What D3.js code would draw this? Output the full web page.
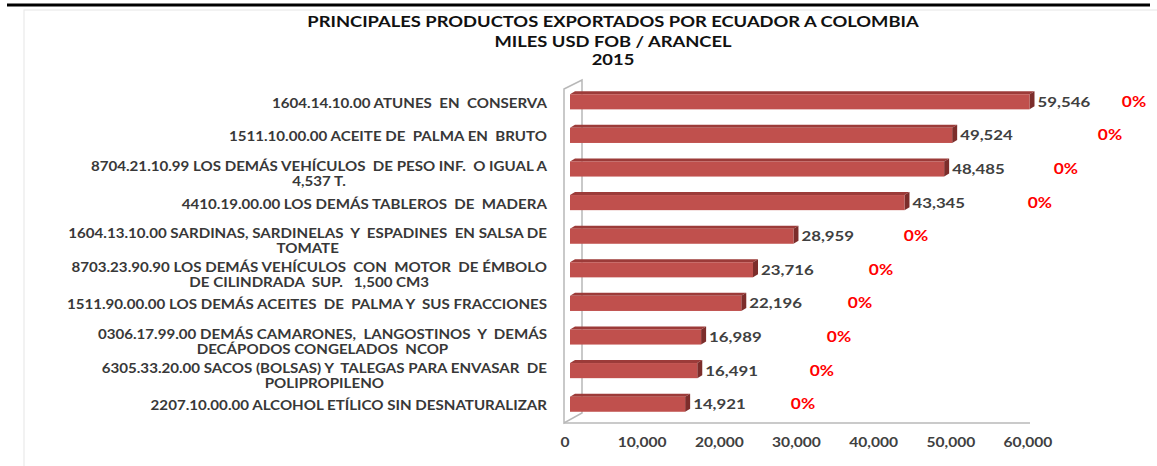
<!DOCTYPE html>
<html>
<head>
<meta charset="utf-8">
<script src="https://cdn.jsdelivr.net/npm/d3@7"></script>
<style>
  body { margin: 0; background: #fff; }
  text { font-family: Lato, "Open Sans", sans-serif; font-weight: 700; white-space: pre; }
</style>
</head>
<body>
<svg id="chart" width="1157" height="466"></svg>
<script>
// datos
var categorias = [
  "1604.14.10.00 ATUNES  EN  CONSERVA",
  "1511.10.00.00 ACEITE DE  PALMA EN  BRUTO",
  "8704.21.10.99 LOS DEMÁS VEHÍCULOS  DE PESO INF.  O IGUAL A|4,537 T.",
  "4410.19.00.00 LOS DEMÁS TABLEROS  DE  MADERA",
  "1604.13.10.00 SARDINAS, SARDINELAS  Y  ESPADINES  EN SALSA DE|TOMATE",
  "8703.23.90.90 LOS DEMÁS VEHÍCULOS  CON  MOTOR  DE ÉMBOLO|DE CILINDRADA  SUP.   1,500 CM3",
  "1511.90.00.00 LOS DEMÁS ACEITES  DE  PALMA Y  SUS FRACCIONES",
  "0306.17.99.00 DEMÁS CAMARONES,  LANGOSTINOS  Y  DEMÁS|DECÁPODOS CONGELADOS  NCOP",
  "6305.33.20.00 SACOS (BOLSAS) Y  TALEGAS PARA ENVASAR  DE|POLIPROPILENO",
  "2207.10.00.00 ALCOHOL ETÍLICO SIN DESNATURALIZAR"
];
var valores = [59546, 49524, 48485, 43345, 28959, 23716, 22196, 16989, 16491, 14921];
// serie auxiliar (invisible) que lleva las etiquetas de variacion
var variacion = [0, 0, 0, 0, 0, 0, 0, 0, 0, 0];
var serieAux = [73090, 69980, 64270, 60900, 44840, 40300, 37580, 34860, 32650, 30190];
var ticks = [0, 10000, 20000, 30000, 40000, 50000, 60000];
var titulo = ["PRINCIPALES PRODUCTOS EXPORTADOS POR ECUADOR A COLOMBIA", "MILES USD FOB / ARANCEL", "2015"];

var S = 1.2; // estiramiento horizontal del texto
var svg = d3.select("#chart");

// marco de la pagina
svg.append("line").attr("x1", 7).attr("x2", 1150).attr("y1", 5).attr("y2", 5)
  .attr("stroke", "#000").attr("stroke-width", 3);
svg.append("rect").attr("x", 24).attr("y", 10).attr("width", 1150).attr("height", 470)
  .attr("fill", "#fff").attr("stroke", "#e6e6e6");

var x = d3.scaleLinear().domain([0, 60000]).range([570, 1033]);
var y = d3.scaleBand().domain(categorias).range([85, 421])
  .paddingInner(0.55).paddingOuter(0.275);

function stext(g, px, py, s) {
  return g.append("g").attr("transform", "translate(" + px + "," + py + ") scale(" + s + ",1)")
    .append("text");
}

// titulo
var tY = [27, 47, 65];
titulo.forEach(function(t, i) {
  stext(svg, 613, tY[i], S).attr("text-anchor", "middle")
    .style("font-size", "15.3px").attr("fill", "#111").text(t);
});

// paredes 3D
var x0 = x(0), yTop = 80, yBot = 423;
var wall = svg.append("g").attr("stroke", "#b8b8b8").attr("stroke-width", 1.5).attr("fill", "none");
wall.append("path").attr("d",
  "M" + (x0 - 6) + "," + (yTop + 9) + "L" + (x0 + 12) + "," + yTop +
  "L" + (x0 + 12) + "," + (yBot - 10) + "L" + (x0 - 6) + "," + yBot + "Z");
wall.append("line").attr("x1", x0 - 6).attr("x2", x(60000) - 3)
  .attr("y1", yBot).attr("y2", yBot);

// barras
var dx = 5, dy = 3;
var bars = svg.append("g").selectAll("g").data(valores).enter().append("g");
bars.append("path").attr("fill", "#9c3b39").attr("d", function(d, i) {
  var y0 = y(categorias[i]);
  return "M" + x0 + "," + y0 + "L" + (x0 + dx) + "," + (y0 - dy) + "L" + (x(d) + dx) + "," + (y0 - dy) +
    "L" + x(d) + "," + y0 + "Z";
});
bars.append("path").attr("fill", "#7c2d2b").attr("d", function(d, i) {
  var y0 = y(categorias[i]), y1 = y0 + y.bandwidth();
  return "M" + x(d) + "," + y0 + "L" + (x(d) + dx) + "," + (y0 - dy) + "L" + (x(d) + dx) + "," + (y1 - dy) +
    "L" + x(d) + "," + y1 + "Z";
});
bars.append("rect")
  .attr("x", x0)
  .attr("y", function(d, i) { return y(categorias[i]); })
  .attr("width", function(d) { return x(d) - x0; })
  .attr("height", y.bandwidth())
  .attr("fill", "#c0504d");

// etiquetas de valor
valores.forEach(function(d, i) {
  var c = y(categorias[i]) + y.bandwidth() / 2;
  stext(svg, x(d) + 8, c + 5, S).style("font-size", "14px").attr("fill", "#404040")
    .text(d3.format(",")(d));
  stext(svg, x(serieAux[i]), c + 5, S).attr("text-anchor", "middle")
    .style("font-size", "14.5px").attr("fill", "#ff0000").text(d3.format(".0%")(variacion[i]));
});

// etiquetas de categoria
categorias.forEach(function(cat, i) {
  var c = y(cat) + y.bandwidth() / 2;
  var lines = cat.split("|");
  if (lines.length == 1) {
    stext(svg, 547, c + 6, S).attr("text-anchor", "end")
      .style("font-size", "12.6px").attr("fill", "#383838").text(lines[0]);
  } else {
    var t1 = stext(svg, 547, c + 2, S).attr("text-anchor", "end")
      .style("font-size", "12.6px").attr("fill", "#383838").text(lines[0]);
    var w = t1.node().getComputedTextLength() * S;
    stext(svg, 547 - w / 2, c + 17, S).attr("text-anchor", "middle")
      .style("font-size", "12.6px").attr("fill", "#383838").text(lines[1]);
  }
});

// eje x
ticks.forEach(function(t) {
  stext(svg, x(t) - 5, 447, S).attr("text-anchor", "middle")
    .style("font-size", "13px").attr("fill", "#404040").text(d3.format(",")(t));
});
</script>
</body>
</html>
